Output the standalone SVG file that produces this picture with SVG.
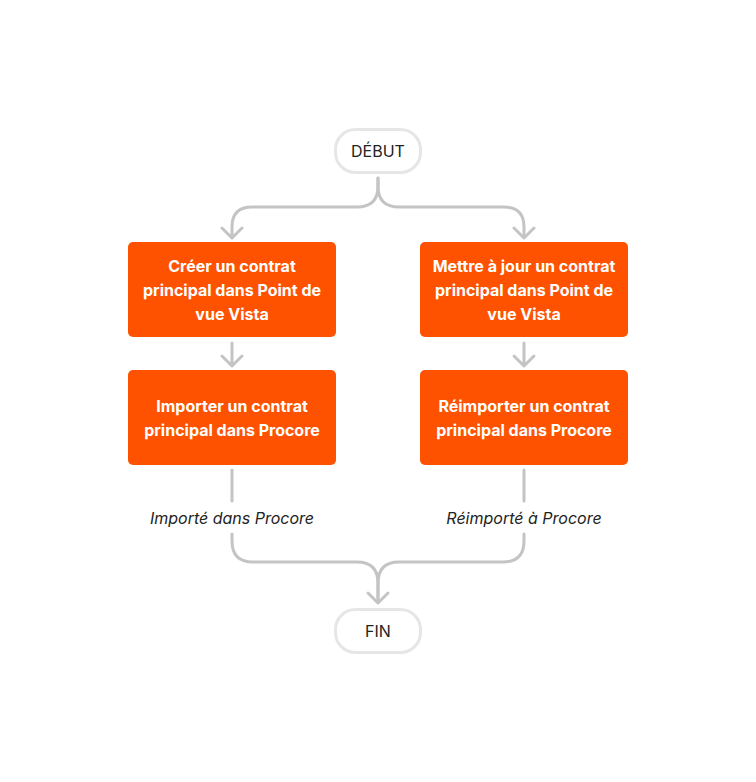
<svg xmlns="http://www.w3.org/2000/svg" width="756" height="782" viewBox="0 0 756 782">
<style>
.term{fill:#fff;stroke:#e6e6e6;stroke-width:3}
.box{fill:#ff5200}
.bt{font-family:Inter,"Liberation Sans",sans-serif;font-size:16px;font-weight:700;fill:#fff;text-anchor:middle}
.tt{font-family:Inter,"Liberation Sans",sans-serif;font-size:16px;fill:#232323;text-anchor:middle}
.lab{font-family:Inter,"Liberation Sans",sans-serif;font-size:16px;font-style:italic;fill:#232323;text-anchor:middle}
.c{fill:none;stroke:#c4c4c4;stroke-width:3;stroke-linecap:round;stroke-linejoin:round}
</style>
<rect width="756" height="782" fill="#fff"/>
<g id="connectors">
<path class="c" d="M378,178 V186 Q378,207 357,207 H252 Q232,207 232,227 V237"/>
<path class="c" d="M378,178 V186 Q378,207 399,207 H504 Q524,207 524,227 V237"/>
<path class="c" d="M222,228 L232,238 L242,228 M514,228 L524,238 L534,228"/>
<path class="c" d="M232,343 V365 M222,356 L232,366 L242,356"/>
<path class="c" d="M524,343 V365 M514,356 L524,366 L534,356"/>
<path class="c" d="M232,470 V501 M524,470 V501"/>
<path class="c" d="M232,534 V541 Q232,562 253,562 H357 Q378,562 378,583 V602"/>
<path class="c" d="M524,534 V541 Q524,562 503,562 H399 Q378,562 378,583 V602"/>
<path class="c" d="M368,593 L378,603 L388,593"/>
</g>
<g id="debut">
<rect class="term" x="335.5" y="129.5" width="85" height="43" rx="20"/>
<text class="tt" x="378" y="157">DÉBUT</text>
</g>
<g id="creer">
<rect class="box" x="128" y="242" width="208" height="95" rx="5"/>
<text class="bt" x="232" y="271.5">Créer un contrat</text>
<text class="bt" x="232" y="295.5">principal dans Point de</text>
<text class="bt" x="232" y="319.5">vue Vista</text>
</g>
<g id="mettre">
<rect class="box" x="420" y="242" width="208" height="95" rx="5"/>
<text class="bt" x="524" y="271.5">Mettre à jour un contrat</text>
<text class="bt" x="524" y="295.5">principal dans Point de</text>
<text class="bt" x="524" y="319.5">vue Vista</text>
</g>
<g id="importer">
<rect class="box" x="128" y="370" width="208" height="95" rx="5"/>
<text class="bt" x="232" y="411.5">Importer un contrat</text>
<text class="bt" x="232" y="435.5">principal dans Procore</text>
</g>
<g id="reimporter">
<rect class="box" x="420" y="370" width="208" height="95" rx="5"/>
<text class="bt" x="524" y="411.5">Réimporter un contrat</text>
<text class="bt" x="524" y="435.5">principal dans Procore</text>
</g>
<g id="labels">
<text class="lab" x="232" y="523.5">Importé dans Procore</text>
<text class="lab" x="524" y="523.5">Réimporté à Procore</text>
</g>
<g id="fin">
<rect class="term" x="335.5" y="609.5" width="85" height="43" rx="20"/>
<text class="tt" x="378" y="637">FIN</text>
</g>
</svg>
